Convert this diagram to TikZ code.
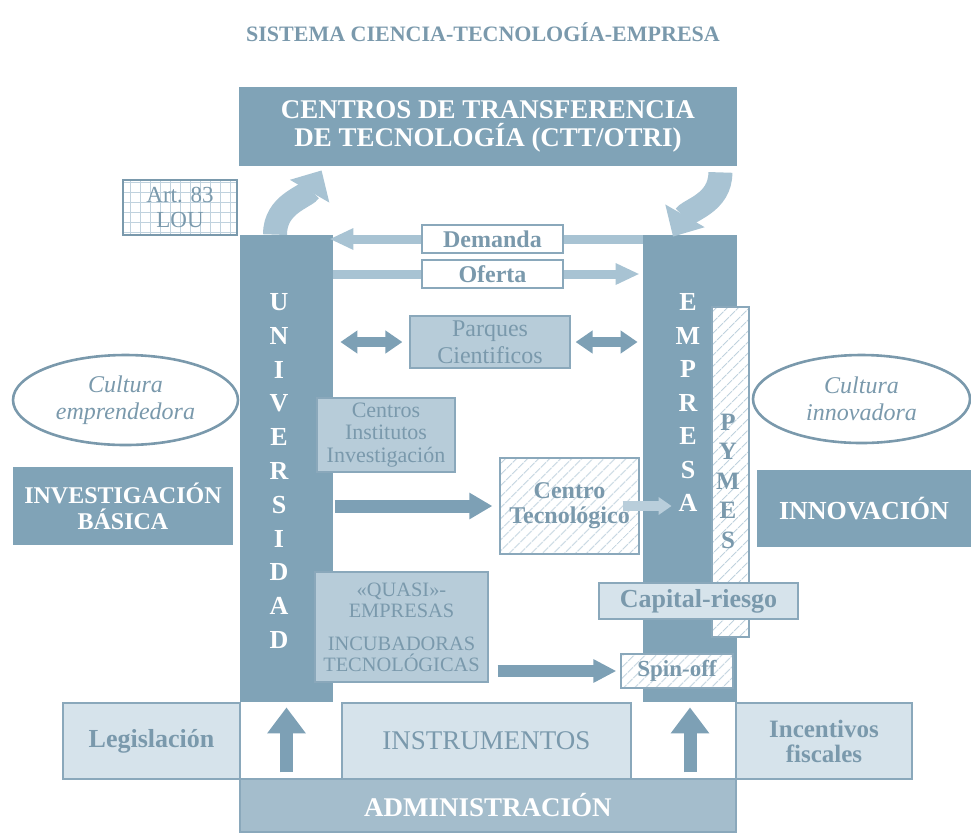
\documentclass[tikz,border=0pt]{standalone}
\usepackage{fontspec}
\setmainfont{Liberation Serif}
\usetikzlibrary{arrows.meta,positioning,calc,patterns.meta,shapes.geometric}
\definecolor{ctedark}{RGB}{128,163,183}
\definecolor{cteadmin}{RGB}{164,189,204}
\definecolor{ctemid}{RGB}{183,204,217}
\definecolor{ctepale}{RGB}{214,227,235}
\definecolor{ctetext}{RGB}{122,153,172}
\definecolor{cteline}{RGB}{138,168,187}
\definecolor{ctelt}{RGB}{168,195,211}
\definecolor{ctelighter}{RGB}{185,206,219}
\definecolor{cteadark}{RGB}{125,160,181}
\definecolor{ctehatch}{RGB}{192,210,222}

\begin{document}
\begin{tikzpicture}[x=0.5pt, y=-0.5pt,
    darkbox/.style={fill=ctedark, inner sep=0pt, align=center, text=white},
    midbox/.style={fill=ctemid, draw=cteline, line width=0.6pt, inner sep=0pt, align=center, text=ctetext},
    palebox/.style={fill=ctepale, draw=cteline, line width=0.6pt, inner sep=0pt, align=center, text=ctetext},
    whitebox/.style={fill=white, draw=cteline, line width=0.9pt, inner sep=0pt, align=center, text=ctetext},
    hatchbox/.style={draw=cteline, line width=0.6pt, preaction={fill=white},
        pattern={Lines[angle=45,distance=4pt,line width=0.5pt]}, pattern color=ctehatch,
        inner sep=0pt, align=center, text=ctetext},
    cloud/.style={ellipse, fill=white, draw=ctetext, line width=1.3pt, inner sep=0pt, align=center, text=ctetext,
        font={\fontsize{12}{13.5}\selectfont\itshape}},
    flowarrow/.style={ctelt, line width=4.5pt, -{Triangle[width=10pt,length=12pt]}},
    linkarrow/.style={cteadark, line width=5pt, {Triangle[width=11pt,length=8.5pt]}-{Triangle[width=11pt,length=8.5pt]}},
    pusharrow/.style={cteadark, line width=6.5pt, -{Triangle[width=12.5pt,length=11.5pt]}},
    uparrow/.style={cteadark, line width=6.5pt, -{Triangle[width=18.5pt,length=13pt]}},
    curvearrow/.style={ctelt, line width=12pt, -{Triangle[width=22pt,length=12pt]}}]
    \useasboundingbox (0,0) rectangle (971,832);

    % Title
    \node[text=ctetext, font={\fontsize{11}{12}\selectfont\bfseries}] (title) at (483,32) {SISTEMA CIENCIA-TECNOLOGÍA-EMPRESA};

    % Transfer centres
    \node[darkbox, minimum width=249pt, minimum height=39.5pt, font={\fontsize{13.5}{14}\selectfont\bfseries}] (ctt) at (488,126.5)
        {CENTROS DE TRANSFERENCIA\\DE TECNOLOGÍA (CTT/OTRI)};
    \node[draw=ctetext, line width=0.9pt, fill=white, pattern={Hatch[angle=0,distance=5pt,line width=0.4pt]}, pattern color=ctehatch,
        minimum width=57pt, minimum height=27.5pt, inner sep=0pt] (art) at (180,207.5) {};
    \node[text=ctetext, align=center, font={\fontsize{11.5}{12.5}\selectfont}] (artlabel) at (art) {Art. 83\\LOU};

    % Columns
    \node[darkbox, minimum width=46.5pt, minimum height=233.5pt] (univ) at (286.5,468.5) {};
    \node[darkbox, minimum width=47pt, minimum height=233.5pt] (empr) at (690,468.5) {};
    \node[hatchbox, minimum width=18.5pt, minimum height=165pt] (pymes) at (730.5,472) {};
    \node[text=white, align=center, font={\fontsize{13}{16.9}\selectfont\bfseries}] (univtext) at (279,471)
        {U\\N\\I\\V\\E\\R\\S\\I\\D\\A\\D};
    \node[text=white, align=center, font={\fontsize{13}{16.75}\selectfont\bfseries}] (emprtext) at (688,402.5)
        {E\\M\\P\\R\\E\\S\\A};
    \node[text=ctetext, align=center, font={\fontsize{12.5}{14.75}\selectfont\bfseries}] (pymestext) at (728,481)
        {P\\Y\\M\\E\\S};
    \node[palebox, minimum width=99.5pt, minimum height=18pt, font={\fontsize{13}{14}\selectfont\bfseries}] (capital) at (698.5,601) {Capital-riesgo};
    \node[hatchbox, minimum width=56pt, minimum height=17pt, font={\fontsize{11.5}{12}\selectfont\bfseries}] (spinoff) at (677,671) {Spin-off};

    % Between the columns
    \node[whitebox, minimum width=70.5pt, minimum height=14pt, font={\fontsize{12}{13}\selectfont\bfseries}] (demanda) at (492.5,239) {Demanda};
    \node[whitebox, minimum width=70.5pt, minimum height=14pt, font={\fontsize{12}{13}\selectfont\bfseries}] (oferta) at (492.5,274) {Oferta};
    \node[midbox, minimum width=80pt, minimum height=26pt, font={\fontsize{12}{13.5}\selectfont}] (parques) at (490,342) {Parques\\Cientificos};
    \node[midbox, minimum width=69pt, minimum height=37pt, font={\fontsize{11}{11.3}\selectfont}] (centros) at (386,435)
        {Centros\\Institutos\\Investigación};
    \node[hatchbox, minimum width=69.5pt, minimum height=48pt, font={\fontsize{12}{12.5}\selectfont\bfseries}] (centec) at (569.5,506)
        {Centro\\Tecnológico};
    \node[midbox, minimum width=86.5pt, minimum height=55pt, font={\fontsize{10.2}{10.5}\selectfont}] (quasi) at (401.5,627)
        {«QUASI»-\\EMPRESAS\\[6pt]INCUBADORAS\\TECNOLÓGICAS};

    % Sides
    \node[cloud, minimum width=112.5pt, minimum height=45pt] (cultemp) at (125.5,400) {Cultura\\emprendedora};
    \node[darkbox, minimum width=110pt, minimum height=39pt, font={\fontsize{12}{13}\selectfont\bfseries}] (invbas) at (123,506)
        {INVESTIGACIÓN\\BÁSICA};
    \node[cloud, minimum width=108.5pt, minimum height=44pt] (cultinn) at (861.5,399) {Cultura\\innovadora};
    \node[darkbox, minimum width=107pt, minimum height=38.5pt, font={\fontsize{13}{14}\selectfont\bfseries}] (innov) at (864,508.5) {INNOVACIÓN};

    % Bottom row
    \node[palebox, minimum width=88.5pt, minimum height=38pt, font={\fontsize{13}{14}\selectfont\bfseries}] (legis) at (151.5,741) {Legislación};
    \node[palebox, minimum width=144.5pt, minimum height=38pt, font={\fontsize{13.5}{14}\selectfont}] (instr) at (486.5,741) {INSTRUMENTOS};
    \node[palebox, minimum width=88pt, minimum height=38pt, font={\fontsize{12.5}{12.5}\selectfont\bfseries}] (incent) at (824,741) {Incentivos\\fiscales};
    \node[fill=cteadmin, draw=cteline, line width=0.6pt, minimum width=248pt, minimum height=26.5pt, inner sep=0pt, text=white,
        font={\fontsize{13.5}{14}\selectfont\bfseries}] (admin) at (488,805.5) {ADMINISTRACIÓN};

    % Curved arrows to and from the transfer centres
    \draw[curvearrow] ([xshift=-5.75pt]univ.north) to[out=90,in=-120] ([xshift=41.5pt,yshift=-2pt]ctt.south west);
    \draw[curvearrow] ([xshift=-8.5pt,yshift=-3pt]ctt.south east) to[out=-90,in=60] ([xshift=-8.5pt,yshift=-1pt]empr.north);

    % Demanda / Oferta
    \draw[ctelt, line width=4.5pt] (empr.west |- demanda.east) -- (demanda.east);
    \draw[flowarrow, shorten >=-2pt] (demanda.west) -- (univ.east |- demanda.west);
    \draw[ctelt, line width=4.5pt] (univ.east |- oferta.west) -- (oferta.west);
    \draw[flowarrow, shorten >=1.5pt] (oferta.east) -- (empr.west |- oferta.east);

    % Parques
    \draw[linkarrow, shorten <=3.5pt, shorten >=3.5pt] (univ.east |- parques.west) -- (parques.west);
    \draw[linkarrow, shorten <=2.5pt, shorten >=2.5pt] (parques.east) -- (empr.west |- parques.east);

    % Transfer to the Centro Tecnologico and the spin-offs
    \draw[pusharrow, shorten <=1pt, shorten >=3.5pt] (univ.east |- centec.west) -- (centec.west);
    \draw[ctelighter, line width=5pt, -{Triangle[width=8.5pt,length=6.5pt]}] ($(centec.east)+(-17,0)$) -- ($(empr.west |- centec.east)+(29,0)$);
    \draw[pusharrow, line width=6pt, -{Triangle[width=11pt,length=11.5pt]}, shorten <=4.5pt, shorten >=2pt] (quasi.east |- spinoff.west) -- (spinoff.west);

    % Administration
    \draw[uparrow, shorten <=3pt, shorten >=2.5pt] (admin.north -| univ.south) -- (univ.south);
    \draw[uparrow, shorten <=3pt, shorten >=2.5pt] (admin.north -| empr.south) -- (empr.south);
\end{tikzpicture}
\end{document}
